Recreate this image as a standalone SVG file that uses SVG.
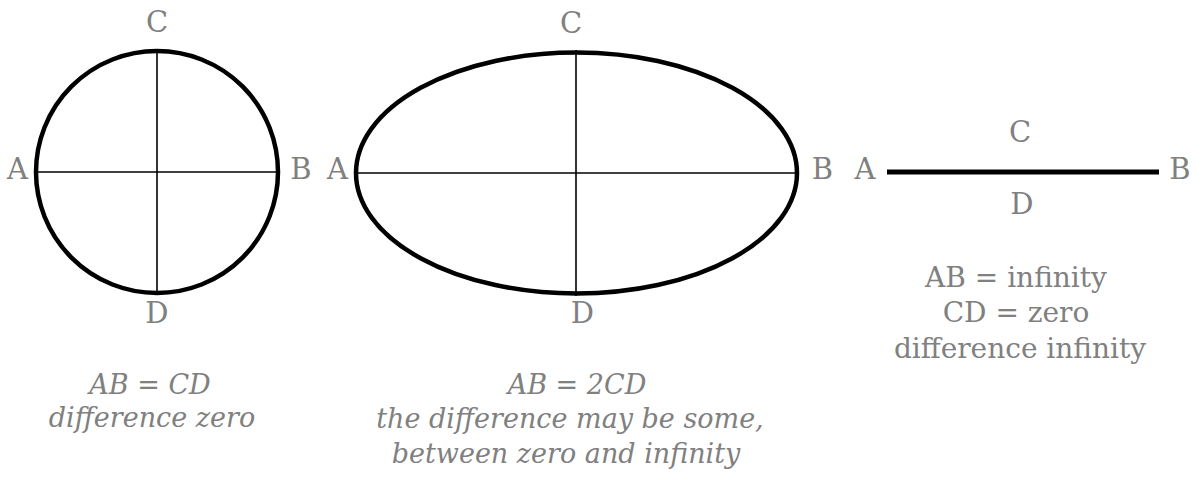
<svg xmlns="http://www.w3.org/2000/svg" width="1197" height="477" viewBox="0 0 1197 477">
<style>
.shape{fill:none;stroke:#000;stroke-width:4.5}
.axis{stroke:#000;stroke-width:1.6;fill:none}
.lbl{font-family:"DejaVu Serif","Liberation Serif",serif;font-size:29px;fill:#808080;text-anchor:middle}
.cap{font-family:"DejaVu Serif","Liberation Serif",serif;font-size:28px;fill:#808080;text-anchor:middle}
.it{font-family:"DejaVu Serif","Liberation Serif",serif;font-style:italic;font-size:27px;fill:#808080;text-anchor:middle}
</style>
<rect width="1197" height="477" fill="#fff"/>
<g id="circle">
<circle class="shape" cx="157" cy="172" r="121"/>
<line class="axis" x1="34" y1="172" x2="279" y2="172"/>
<line class="axis" x1="157" y1="49" x2="157" y2="295"/>
<text class="lbl" x="157" y="32">C</text>
<text class="lbl" x="17.5" y="179">A</text>
<text class="lbl" x="301" y="179">B</text>
<text class="lbl" x="157" y="323">D</text>
<text class="it" x="150" y="394">AB = CD</text>
<text class="it" x="152" y="427">difference zero</text>
</g>
<g id="ellipse">
<ellipse class="shape" cx="576.5" cy="173" rx="220.5" ry="120.5"/>
<line class="axis" x1="354" y1="173" x2="799" y2="173"/>
<line class="axis" x1="576" y1="50" x2="576" y2="296"/>
<text class="lbl" x="571" y="33">C</text>
<text class="lbl" x="337.5" y="179">A</text>
<text class="lbl" x="822.5" y="179">B</text>
<text class="lbl" x="582.5" y="323">D</text>
<text class="it" x="577" y="394">AB = 2CD</text>
<text class="it" x="570" y="428">the difference may be some,</text>
<text class="it" x="566" y="463">between zero and infinity</text>
</g>
<g id="segment">
<line x1="887" y1="172" x2="1159" y2="172" stroke="#000" stroke-width="5"/>
<text class="lbl" x="1020" y="142">C</text>
<text class="lbl" x="865" y="179">A</text>
<text class="lbl" x="1180" y="179">B</text>
<text class="lbl" x="1022" y="214">D</text>
<text class="cap" x="1016" y="287">AB = infinity</text>
<text class="cap" x="1016" y="322">CD = zero</text>
<text class="cap" x="1020" y="358">difference infinity</text>
</g>
<g id="connectors"/>
</svg>
